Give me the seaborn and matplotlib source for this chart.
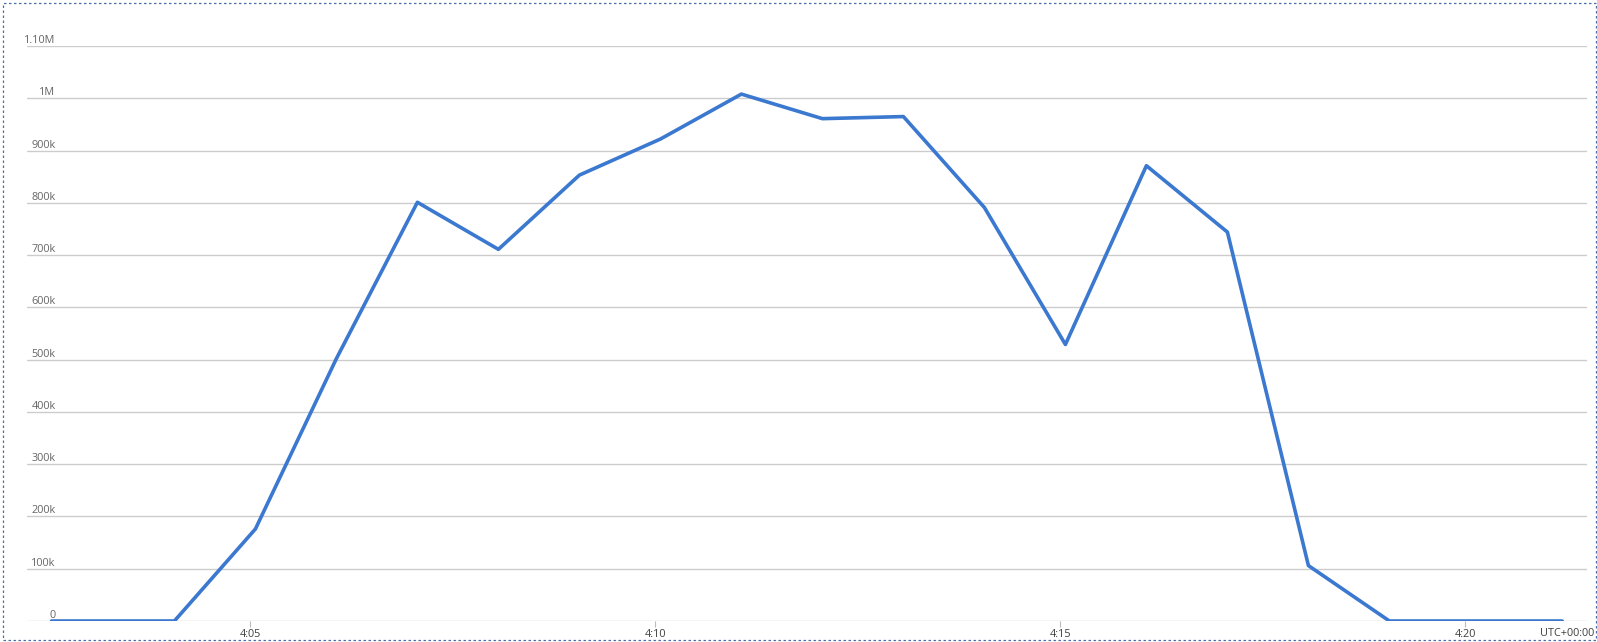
import matplotlib
matplotlib.use("Agg")
import matplotlib.pyplot as plt
import matplotlib.transforms as mtransforms
from matplotlib.patches import Rectangle
import seaborn as sns
import pandas as pd

# ---- data ----
times = ["4:02:33", "4:03:04", "4:04:04", "4:05:04", "4:06:04", "4:07:04", "4:08:04",
         "4:09:04", "4:10:04", "4:11:04", "4:12:04", "4:13:04", "4:14:04", "4:15:04",
         "4:16:04", "4:17:04", "4:18:04", "4:19:04", "4:20:04", "4:21:04", "4:21:12"]
values = [0, 0, 0, 176000, 502000, 801000, 711000,
          853000, 922000, 1008000, 961000, 965000, 791000, 529000,
          871000, 744000, 106000, 0, 0, 0, 0]
y_ticks = [0, 100000, 200000, 300000, 400000, 500000, 600000, 700000, 800000,
           900000, 1000000, 1100000]
y_labels = ["0", "100k", "200k", "300k", "400k", "500k", "600k", "700k", "800k",
            "900k", "1M", "1.10M"]
x_ticks = ["4:05", "4:10", "4:15", "4:20"]
tz_label = "UTC+00:00"


def to_min(s):
    parts = [int(p) for p in s.split(":")]
    h, m = parts[0], parts[1]
    sec = parts[2] if len(parts) > 2 else 0
    return (h - 4) * 60 + m + sec / 60.0


df = pd.DataFrame({"t": [to_min(t) for t in times], "v": values})

sns.set_theme(style="white")
plt.rcParams["font.family"] = ["Open Sans", "DejaVu Sans"]

fig = plt.figure(figsize=(15.97, 6.42), dpi=100)
W, H = 1597, 642
left_px, right_px, top_px, bottom_px = 27, 1587, 46, 621
ax = fig.add_axes([left_px / W, 1 - bottom_px / H,
                   (right_px - left_px) / W, (bottom_px - top_px) / H])

# gridlines
for yt in y_ticks:
    ax.axhline(yt, color="#cccccc", lw=1.0, zorder=1)

sns.lineplot(data=df, x="t", y="v", ax=ax, color="#3b78cf", lw=2.6,
             zorder=3, estimator=None, sort=False)

ax.set_xlim(2.247, 21.506)
ax.set_ylim(0, 1100000)
for s in ax.spines.values():
    s.set_visible(False)
ax.set_xlabel("")
ax.set_ylabel("")
ax.set_yticks([])

xt = [to_min(t) for t in x_ticks]
ax.set_xticks(xt)
ax.set_xticklabels(x_ticks, fontsize=7.8, color="#404040")
ax.tick_params(axis="x", length=4, width=0.8, color="#bbbbbb", pad=2, direction="out",
               bottom=True)

# y labels: right aligned above gridlines
trans = mtransforms.blended_transform_factory(fig.transFigure, ax.transData)
for yt, lab in zip(y_ticks, y_labels):
    ax.text(55.5 / W, yt, lab, transform=trans, ha="right", va="bottom",
            fontsize=7.8, color="#666666", clip_on=False)

fig.text(1567 / W, 1 - 634 / H, tz_label, ha="center", va="center",
         fontsize=7.8, color="#404040")

# dashed border frame
fig.patches.append(Rectangle((3 / W, 2 / H), (1596 - 3) / W, (639 - 2) / H,
                             transform=fig.transFigure, fill=False,
                             edgecolor="#4a6ea8", lw=0.9, ls=(0, (2, 2))))

fig.savefig("out.png", dpi=100, facecolor="white")
